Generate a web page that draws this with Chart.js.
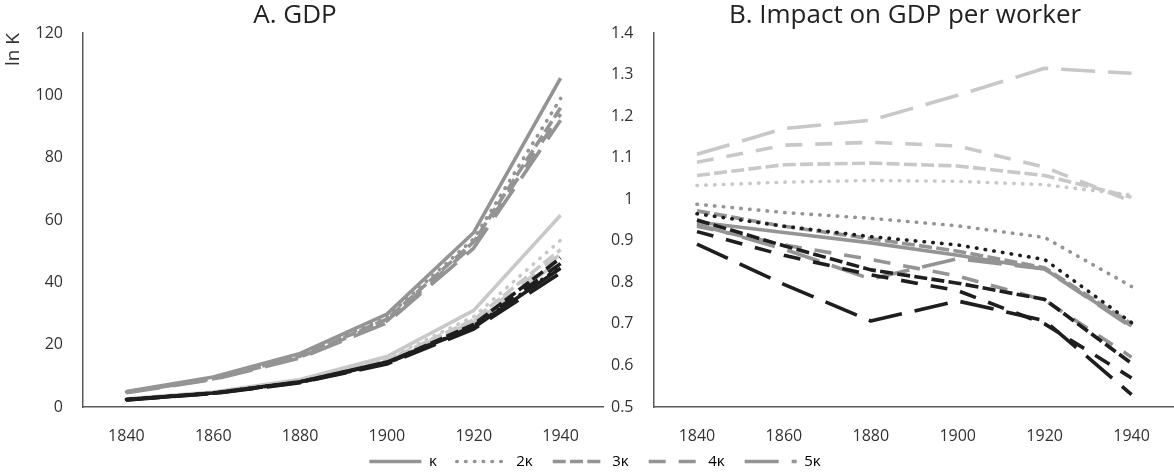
<!DOCTYPE html>
<html>
<head>
<meta charset="utf-8">
<title>GDP and GDP per worker</title>
<script src="https://cdn.jsdelivr.net/npm/chart.js@4.4.1/dist/chart.umd.min.js"></script>
<style>
  html, body { margin: 0; padding: 0; background: #ffffff; }
  body { width: 1174px; height: 474px; overflow: hidden; position: relative; }
  .panel { position: absolute; }
  #wrapA { left: 0; top: 0; width: 604px; height: 452px; }
  #wrapB { left: 600px; top: 0; width: 575px; height: 452px; }
  #wrapL { left: 8px; top: 434px; width: 1174px; height: 100px; }
</style>
</head>
<body>
<div class="panel" id="wrapA"><canvas id="chartA"></canvas></div>
<div class="panel" id="wrapB"><canvas id="chartB"></canvas></div>
<div class="panel" id="wrapL"><canvas id="chartL"></canvas></div>
<script>
// ---- data ----
const years = ['1840', '1860', '1880', '1900', '1920', '1940'];
const kappaLabels = ['κ', '2κ', '3κ', '4κ', '5κ'];

// Panel A: GDP, three scenario groups (grey, light grey, black), one line per multiple of kappa
const gdpGrey1  = [5.0, 9.6, 17.2, 29.8, 56.0, 105.5];
const gdpGrey2  = [4.9, 9.3, 16.6, 28.8, 54.0, 99.0];
const gdpGrey3  = [4.8, 9.1, 16.3, 28.2, 53.0, 96.0];
const gdpGrey4  = [4.7, 9.0, 16.0, 27.6, 52.0, 94.0];
const gdpGrey5  = [4.6, 8.8, 15.7, 27.0, 51.0, 92.0];
const gdpLight1 = [2.6, 4.8, 8.8, 16.2, 31.0, 61.5];
const gdpLight2 = [2.5, 4.6, 8.4, 15.5, 29.0, 53.5];
const gdpLight3 = [2.4, 4.5, 8.2, 15.0, 28.0, 50.5];
const gdpLight4 = [2.4, 4.4, 8.0, 14.6, 27.5, 49.0];
const gdpLight5 = [2.3, 4.3, 7.8, 14.2, 27.0, 47.0];
const gdpBlack1 = [2.4, 4.5, 8.1, 14.4, 25.5, 44.5];
const gdpBlack2 = [2.4, 4.5, 8.1, 14.3, 25.8, 45.0];
const gdpBlack3 = [2.4, 4.4, 8.0, 14.2, 26.5, 47.8];
const gdpBlack4 = [2.3, 4.4, 7.9, 14.0, 26.0, 46.0];
const gdpBlack5 = [2.3, 4.3, 7.8, 13.8, 25.0, 43.0];

// Panel B: impact on GDP per worker
const gpwLight2 = [1.033, 1.041, 1.045, 1.043, 1.035, 1.010];
const gpwLight3 = [1.057, 1.083, 1.087, 1.080, 1.057, 1.005];
const gpwLight4 = [1.089, 1.130, 1.137, 1.128, 1.077, 0.995];
const gpwLight5 = [1.108, 1.170, 1.190, 1.250, 1.315, 1.303];
const gpwGrey1  = [0.945, 0.920, 0.895, 0.865, 0.832, 0.695];
const gpwGrey2  = [0.988, 0.968, 0.954, 0.936, 0.908, 0.790];
const gpwGrey3  = [0.972, 0.935, 0.905, 0.875, 0.835, 0.700];
const gpwGrey4  = [0.935, 0.890, 0.855, 0.815, 0.757, 0.620];
const gpwGrey5  = [0.940, 0.880, 0.808, 0.857, 0.832, 0.692];
const gpwBlack2 = [0.965, 0.935, 0.910, 0.890, 0.855, 0.703];
const gpwBlack3 = [0.950, 0.888, 0.830, 0.798, 0.759, 0.605];
const gpwBlack4 = [0.922, 0.865, 0.818, 0.780, 0.700, 0.570];
const gpwBlack5 = [0.892, 0.795, 0.707, 0.755, 0.708, 0.530];

const gdpTicks = { min: 0, max: 120, step: 20 };
const gpwTicks = { min: 0.5, max: 1.4, step: 0.1 };

// ---- styles ----
const GREY = '#949494';
const LIGHT = '#c8c8c8';
const BLACK = '#1e1e1e';
const AXIS = '#5a5a5a';
const TEXT = '#333333';
const FONT = "'Open Sans', 'Noto Sans', sans-serif";
const LINE_W = 3.6;
// solid, round dot, short dash, dash, long dash
const dashes = [[], [0.5, 8.3], [13, 4.3], [17, 13], [34, 13]];

function series(label, data, colour, k) {
  return {
    label, data,
    borderColor: colour, backgroundColor: colour,
    borderWidth: LINE_W,
    borderDash: dashes[k],
    borderCapStyle: k === 1 ? 'round' : 'butt',
    borderJoinStyle: 'round',
    pointRadius: 0, pointHoverRadius: 0, pointHitRadius: 0,
    tension: 0, fill: false
  };
}

// moves the chart title so that its centre sits at a given x (canvas pixels)
const titleCentre = {
  id: 'titleCentre',
  afterLayout(chart, args, opts) {
    const t = chart.titleBlock;
    if (!t || opts.x == null) return;
    const dx = opts.x - (t.left + t.right) / 2;
    t.left += dx;
    t.right += dx;
  }
};

function panelOptions(cfg) {
  return {
    responsive: true,
    maintainAspectRatio: false,
    animation: false,
    events: [],
    layout: { padding: 0 },
    plugins: {
      legend: { display: false },
      tooltip: { enabled: false },
      title: {
        display: true, text: cfg.title, color: '#222222',
        font: { family: FONT, size: 26, weight: 'normal', lineHeight: 1.2 },
        padding: { top: 0, bottom: 1.8 }
      },
      titleCentre: { x: cfg.titleX }
    },
    scales: {
      x: {
        type: 'category', offset: true,
        grid: { display: false, drawTicks: false },
        border: { display: true, color: AXIS, width: 1.5 },
        ticks: { color: TEXT, font: { family: FONT, size: 16 }, padding: 20, maxRotation: 0 },
        afterFit: s => { s.height = 45; }
      },
      y: {
        type: 'linear', min: cfg.ticks.min, max: cfg.ticks.max,
        grid: { display: false, drawTicks: false },
        border: { display: true, color: AXIS, width: 1.5 },
        ticks: {
          stepSize: cfg.ticks.step, color: TEXT, padding: 20,
          font: { family: FONT, size: 16 },
          callback: v => String(Number(v.toFixed(1)))
        },
        title: cfg.yTitle ? {
          display: true, text: cfg.yTitle, align: 'end', color: TEXT,
          font: { family: FONT, size: 19, lineHeight: 1.2 }, padding: { top: 2, bottom: 0 }
        } : { display: false },
        afterFit: s => { s.width = cfg.yWidth; }
      }
    }
  };
}

const gdpSets = [
  series('κ', gdpBlack1, BLACK, 0), series('2κ', gdpBlack2, BLACK, 1),
  series('3κ', gdpBlack3, BLACK, 2), series('4κ', gdpBlack4, BLACK, 3),
  series('5κ', gdpBlack5, BLACK, 4),
  series('κ', gdpLight1, LIGHT, 0), series('2κ', gdpLight2, LIGHT, 1),
  series('3κ', gdpLight3, LIGHT, 2), series('4κ', gdpLight4, LIGHT, 3),
  series('5κ', gdpLight5, LIGHT, 4),
  series('κ', gdpGrey1, GREY, 0), series('2κ', gdpGrey2, GREY, 1),
  series('3κ', gdpGrey3, GREY, 2), series('4κ', gdpGrey4, GREY, 3),
  series('5κ', gdpGrey5, GREY, 4)
];

const gpwSets = [
  series('2κ', gpwBlack2, BLACK, 1), series('3κ', gpwBlack3, BLACK, 2),
  series('4κ', gpwBlack4, BLACK, 3), series('5κ', gpwBlack5, BLACK, 4),
  series('κ', gpwGrey1, GREY, 0), series('2κ', gpwGrey2, GREY, 1),
  series('3κ', gpwGrey3, GREY, 2), series('4κ', gpwGrey4, GREY, 3),
  series('5κ', gpwGrey5, GREY, 4),
  series('2κ', gpwLight2, LIGHT, 1), series('3κ', gpwLight3, LIGHT, 2),
  series('4κ', gpwLight4, LIGHT, 3), series('5κ', gpwLight5, LIGHT, 4)
];

new Chart(document.getElementById('chartA'), {
  type: 'line',
  data: { labels: years, datasets: gdpSets },
  options: panelOptions({ title: 'A. GDP', ticks: gdpTicks, yTitle: 'ln K', yWidth: 83, titleX: 295 }),
  plugins: [titleCentre]
});

new Chart(document.getElementById('chartB'), {
  type: 'line',
  data: { labels: years, datasets: gpwSets },
  options: panelOptions({ title: 'B. Impact on GDP per worker', ticks: gpwTicks, yWidth: 53.5, titleX: 305 }),
  plugins: [titleCentre]
});

// shared legend: one entry per multiple of kappa, in the grey line styles
new Chart(document.getElementById('chartL'), {
  type: 'line',
  data: { labels: [], datasets: kappaLabels.map((lab, k) => series(lab, [], GREY, k)) },
  options: {
    responsive: true, maintainAspectRatio: false, animation: false, events: [],
    layout: { padding: 0 },
    scales: { x: { display: false }, y: { display: false } },
    plugins: {
      tooltip: { enabled: false },
      legend: {
        display: true, position: 'top',
        labels: {
          usePointStyle: true, pointStyle: 'line', pointStyleWidth: 52, boxHeight: 14,
          color: TEXT, padding: 20, font: { family: FONT, size: 15 },
          generateLabels: chart => chart.data.datasets.map((ds, i) => ({
            text: ds.label, datasetIndex: i, hidden: false,
            strokeStyle: ds.borderColor, fillStyle: ds.borderColor,
            lineWidth: ds.borderWidth, lineDash: ds.borderDash,
            lineCap: ds.borderCapStyle, pointStyle: 'line'
          }))
        }
      }
    }
  }
});
</script>
</body>
</html>
